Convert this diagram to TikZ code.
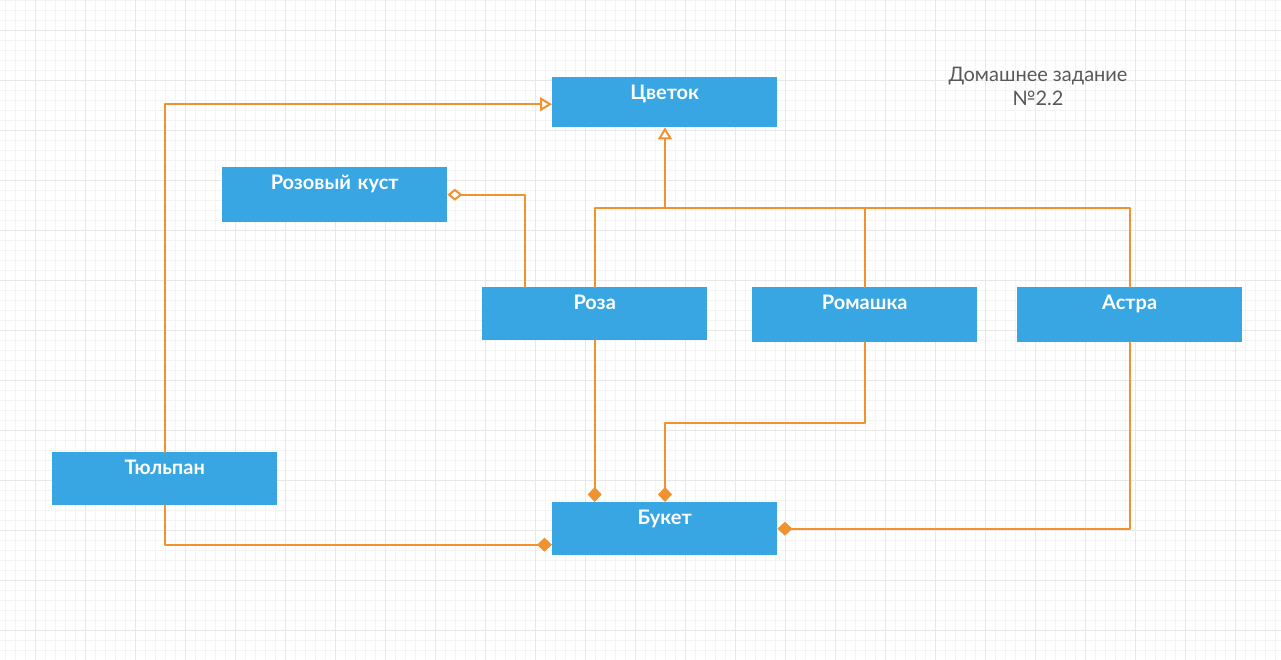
\documentclass[tikz,border=0pt]{standalone}
\usepackage{fontspec}
\setmainfont{Lato}
\usetikzlibrary{arrows.meta}
\usetikzlibrary{positioning}

\definecolor{boxblue}{HTML}{38A6E2}
\definecolor{linkorange}{HTML}{F0932F}
\definecolor{gridminor}{HTML}{F4F4F4}
\definecolor{gridmajor}{HTML}{E8E8E8}

\tikzset{
  classbox/.style={fill=boxblue,draw=none,inner sep=0pt,anchor=north west,
    text width=225pt,align=center,text height=22pt,text depth=31pt,
    text=white,font=\fontsize{20}{22}\selectfont\bfseries},
  link/.style={draw=linkorange,line width=2pt},
  inherit/.style={link,-{Triangle[open,length=12pt,width=14pt]}},
  aggr/.style={link,{Diamond[open,length=15pt,width=12pt]}-},
  compos/.style={link,-{Diamond[length=15pt,width=14pt]}}
}

\begin{document}
\begin{tikzpicture}[line cap=round,line join=round,x=1pt,y=-1pt]
\useasboundingbox (0,0) rectangle (1281,660);
\fill[white] (0,0) rectangle (1281,660);
% grid
\foreach \x in {5,15,...,1275}
\draw[gridminor,line width=0.8pt] (\x,0) -- (\x,660);
\foreach \y in {0,10,...,660}
\draw[gridminor,line width=0.8pt] (0,\y) -- (1281,\y);
\foreach \x in {35,85,...,1275}
\draw[gridmajor,line width=0.8pt] (\x,0) -- (\x,660);
\foreach \y in {30,80,...,630}
\draw[gridmajor,line width=0.8pt] (0,\y) -- (1281,\y);
% classes
\node[classbox,text depth=28pt] (flower) at (552,77) {Цветок};
\node[classbox,text depth=33pt] (bush) at (222,167) {Розовый куст};
\node[classbox] (rose) at (482,287) {Роза};
\node[classbox,text depth=33pt] (chamomile) at (752,287) {Ромашка};
\node[classbox,text depth=33pt] (aster) at (1017,287) {Астра};
\node[classbox] (tulip) at (52,452) {Тюльпан};
\node[classbox] (bouquet) at (552,502) {Букет};
\node[text=black!65,align=center,font=\fontsize{20}{24}\selectfont] (title) at (1038,86) {Домашнее задание\\№2.2};
% inheritance
\coordinate (fork) at (665,208);
\draw[inherit] (tulip.north) |- ([yshift=-2pt]flower.west);
\draw[link] (rose.north) |- (fork) -| (aster.north);
\draw[link] (chamomile.north) -- (chamomile.north |- fork);
\draw[inherit] (fork) -- (fork |- flower.south);
% aggregation
\draw[aggr] (bush.east) -| ([xshift=-70pt]rose.north);
% composition
\coordinate (bend) at (665,423);
\draw[compos] (rose.south) -- (rose.south |- bouquet.north);
\draw[compos] (chamomile.south) |- (bend) -- (bend |- bouquet.north);
\draw[compos] (tulip.south) |- ([yshift=-16pt]bouquet.west);
\draw[compos] (aster.south) |- (bouquet.east);
\end{tikzpicture}
\end{document}
